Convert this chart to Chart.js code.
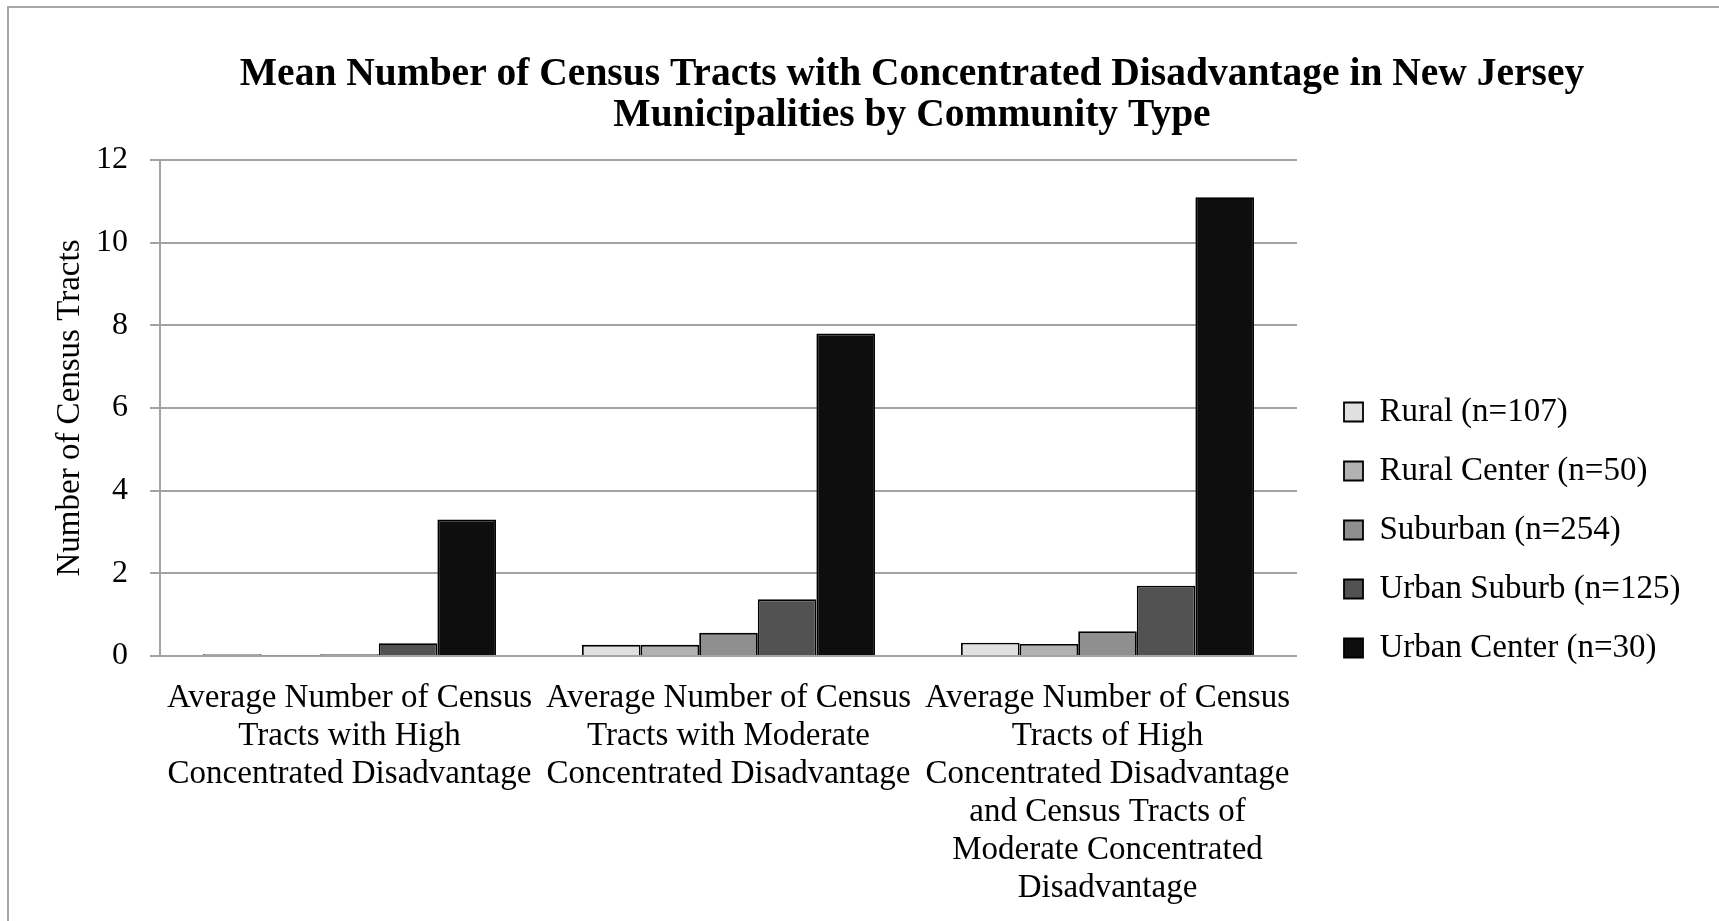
<!DOCTYPE html>
<html>
<head>
<meta charset="utf-8">
<title>Census Tracts with Concentrated Disadvantage</title>
<script src="https://cdn.jsdelivr.net/npm/chart.js@4/dist/chart.umd.min.js"></script>
<style>
  html, body { margin: 0; padding: 0; background: #fff; overflow: hidden; }
  #frame {
    position: absolute; left: 7px; top: 6px;
    width: 1806px; height: 913px;
    border: 2px solid #a6a6a6;
    background: #fff;
  }
  canvas { display: block; }
</style>
</head>
<body>
<div id="frame"><canvas id="chart" width="1806" height="913"></canvas></div>
<script>
// Category labels (one array entry per printed line)
const categories = [
  ['Average Number of Census', 'Tracts with High', 'Concentrated Disadvantage'],
  ['Average Number of Census', 'Tracts with Moderate', 'Concentrated Disadvantage'],
  ['Average Number of Census', 'Tracts of High', 'Concentrated Disadvantage', 'and Census Tracts of', 'Moderate Concentrated', 'Disadvantage']
];

const seriesNames = [
  'Rural (n=107)',
  'Rural Center (n=50)',
  'Suburban (n=254)',
  'Urban Suburb (n=125)',
  'Urban Center (n=30)'
];

// Mean number of tracts per municipality, by community type
const rural       = [0.04, 0.27, 0.32];
const ruralCenter = [0.02, 0.27, 0.29];
const suburban    = [0.04, 0.56, 0.60];
const urbanSuburb = [0.31, 1.37, 1.70];
const urbanCenter = [3.30, 7.80, 11.10];

const titleLines = [
  'Mean Number of Census Tracts with Concentrated Disadvantage in New Jersey',
  'Municipalities by Community Type'
];
const yAxisTitle = 'Number of Census Tracts';
const yMax = 12;
const yStep = 2;

const seriesValues = [rural, ruralCenter, suburban, urbanSuburb, urbanCenter];
const seriesFills = ['#e0e0e0', '#b2b2b2', '#8f8f8f', '#525252', '#0e0e0e'];

Chart.defaults.font.family = "'Liberation Serif', 'Times New Roman', serif";
Chart.defaults.color = '#000';

const GRID = '#a3a3a3';

// Places the legend block to the right of the plot
const legendPlacer = {
  id: 'legendPlacer',
  afterLayout(chart) {
    const lg = chart.legend;
    if (!lg) return;
    const w = lg.width + 20, h = lg.height;
    lg.left = 1309;
    lg.top = 361.5;
    lg.right = lg.left + w;
    lg.bottom = lg.top + h;
  }
};

new Chart(document.getElementById('chart'), {
  type: 'bar',
  data: {
    labels: categories,
    datasets: seriesNames.map((name, i) => ({
      label: name,
      data: seriesValues[i],
      backgroundColor: seriesFills[i],
      borderColor: '#000',
      borderWidth: 1.8,
      barPercentage: 1.0,
      categoryPercentage: 0.773
    }))
  },
  plugins: [legendPlacer],
  options: {
    responsive: false,
    animation: false,
    layout: { padding: 0 },
    plugins: {
      title: {
        display: true,
        text: titleLines,
        color: '#000',
        font: { size: 39.5, weight: 'bold', lineHeight: '41px' },
        padding: { top: 46.5, bottom: 23.5 }
      },
      legend: {
        display: true,
        position: 'chartArea',
        align: 'start',
        labels: {
          color: '#000',
          font: { size: 33 },
          boxWidth: 19,
          boxHeight: 19,
          padding: 26
        }
      },
      tooltip: { enabled: false }
    },
    scales: {
      x: {
        type: 'category',
        grid: { display: false, drawTicks: false },
        border: { display: false },
        ticks: {
          autoSkip: false,
          maxRotation: 0,
          minRotation: 0,
          padding: 23,
          color: '#000',
          font: { size: 33, lineHeight: '38px' }
        },
        afterFit(scale) { scale.height = 265; }
      },
      y: {
        min: 0,
        max: yMax,
        ticks: {
          stepSize: yStep,
          padding: 22,
          color: '#000',
          font: { size: 32 }
        },
        grid: { color: GRID, lineWidth: 2, tickLength: 10, drawTicks: true },
        border: { display: true, color: GRID, width: 2 },
        title: {
          display: true,
          text: yAxisTitle,
          color: '#000',
          font: { size: 33 },
          padding: { top: 42, bottom: 0 }
        },
        afterFit(scale) { scale.width = 151; }
      },
      gap: {
        type: 'linear',
        position: 'right',
        display: true,
        grid: { display: false, drawTicks: false },
        border: { display: false },
        ticks: { display: false },
        afterFit(scale) { scale.width = 518; }
      }
    }
  }
});
</script>
</body>
</html>
